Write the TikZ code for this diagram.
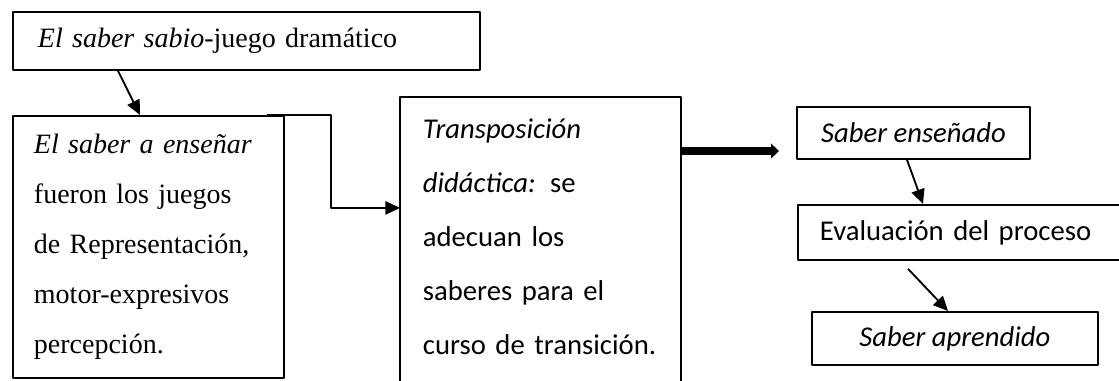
\documentclass[tikz,border=0pt]{standalone}
\usepackage{fontspec}
\setmainfont{Liberation Serif}
\newfontfamily\carlito{Carlito}
\usetikzlibrary{arrows.meta,positioning}
\begin{document}
\begin{tikzpicture}[x=0.75pt,y=-0.75pt,line join = round,>={Triangle[length=11pt,width=10pt]},
		caja/.style={draw,line width=1.4pt,rectangle,inner ysep=0pt,anchor=north west},
		flecha/.style={->,line width=1.4pt}]
	\useasboundingbox (0,0) rectangle (1119,381);
	\node[caja,align=left,inner xsep=18.75pt,text width=312.75pt,minimum height=43.5pt,font=\fontsize{21}{24}\selectfont] (sabio) at (12,11) {\textit{El saber sabio}-juego dramático};
	\node[caja,align=left,inner xsep=15.75pt,text width=171.75pt,minimum height=196.5pt,font=\fontsize{21}{37.5}\selectfont] (ensenar) at (12,115)
		{\textit{El saber a enseñar}\\fueron los juegos\\de Representación,\\motor-expresivos\\percepción.};
	\node[caja,draw=none,align=left,inner xsep=16.5pt,text width=176.25pt,minimum height=208.5pt,font=\carlito\fontsize{21.5}{40.5}\selectfont] (transpo) at (400,97)
		{\textit{Transposición}\\\textit{didáctica:} se\\adecuan los\\saberes para el\\curso de transición.};
	\draw[line width=1.4pt] ([yshift=-9pt]transpo.south west) |- (transpo.north east) -- ([yshift=-9pt]transpo.south east);
	\node[caja,align=center,inner xsep=0pt,minimum width=174.75pt,minimum height=39pt,font=\carlito\fontsize{21.5}{24}\selectfont] (ensenado) at (796,106) {\textit{Saber enseñado}};
	\node[caja,align=left,inner xsep=16.5pt,text width=231pt,minimum height=41.25pt,font=\carlito\fontsize{21.5}{24}\selectfont] (eval) at (797,204) {Evaluación del proceso};
	\node[caja,align=center,inner xsep=0pt,minimum width=214.5pt,minimum height=39.75pt,font=\carlito\fontsize{21.5}{24}\selectfont] (aprendido) at (811,311) {\textit{Saber aprendido}};
	\coordinate (punta) at (779,151);
	\draw[flecha] ([xshift=79.5pt]sabio.south west) -- ([xshift=96pt]ensenar.north west);
	\draw[flecha] ([xshift=-13.5pt]ensenar.north east) -- ++(64,0) |- ([yshift=21.75pt]transpo.west);
	\draw[->,line width=5.5pt,>={Triangle[length=6pt,width=11pt]}] (transpo.east |- punta) -- (punta);
	\draw[flecha] ([xshift=83.25pt]ensenado.south west) -- ([xshift=94.5pt]eval.north west);
	\draw[flecha] ([xshift=83.25pt,yshift=-6pt]eval.south west) -- ([xshift=102.75pt]aprendido.north west);
\end{tikzpicture}
\end{document}
